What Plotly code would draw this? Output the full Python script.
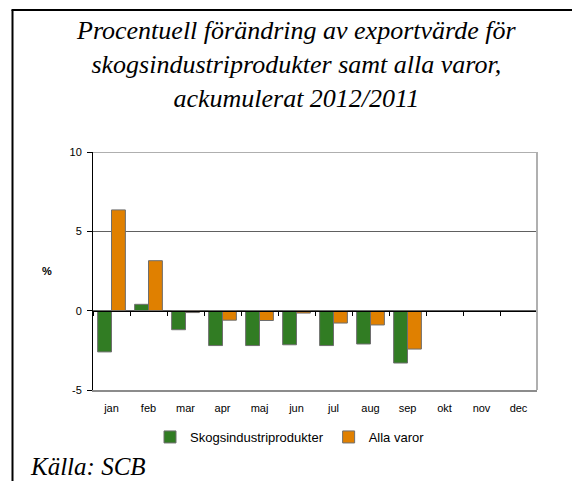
import plotly.graph_objects as go

months = ["jan", "feb", "mar", "apr", "maj", "jun", "jul", "aug", "sep", "okt", "nov", "dec"]
skog = [-2.6, 0.4, -1.2, -2.2, -2.2, -2.15, -2.2, -2.1, -3.3, None, None, None]
alla = [6.35, 3.15, -0.12, -0.6, -0.62, -0.15, -0.78, -0.9, -2.42, None, None, None]
series_names = ["Skogsindustriprodukter", "Alla varor"]
y_ticks = [-5, 0, 5, 10]

W, H = 572, 481
L, R, T, B = 93, 35, 152, 91
pw, ph = W - L - R, H - T - B

def px_x(p):
    return (p - L) / pw

def px_y(p):
    return (H - B - p) / ph

fig = go.Figure()
fig.add_trace(go.Bar(x=months, y=skog, name=series_names[0],
                     marker=dict(color="#317C23", line=dict(color="#6e6e6e", width=1))))
fig.add_trace(go.Bar(x=months, y=alla, name=series_names[1],
                     marker=dict(color="#E08000", line=dict(color="#6e6e6e", width=1))))
# invisible helper trace for the label axis
fig.add_trace(go.Scatter(x=months, y=[None] * len(months), xaxis="x2", showlegend=False,
                         hoverinfo="skip", mode="lines", line=dict(width=0)))

tick_font = dict(family="Liberation Sans, Arial", size=11, color="black")
grid_col = "#606060"
x_range = [-0.5, len(months) - 0.5]

fig.update_layout(
    width=W, height=H,
    margin=dict(l=L, r=R, t=T, b=B, pad=0),
    paper_bgcolor="white", plot_bgcolor="white",
    barmode="group", bargap=0.25, bargroupgap=0,
    showlegend=True,
    legend=dict(orientation="h", x=px_x(290), xanchor="center", y=px_y(437), yanchor="middle",
                font=dict(family="Liberation Sans, Arial", size=13, color="black"),
                itemwidth=30, tracegroupgap=0, bgcolor="rgba(0,0,0,0)"),
    xaxis=dict(type="category", categoryorder="array", categoryarray=months, range=x_range,
               anchor="free", position=1/3, showline=True, linecolor="black", linewidth=1,
               ticks="outside", tickson="boundaries", ticklen=4, tickcolor="black",
               showticklabels=False, showgrid=False, zeroline=False),
    xaxis2=dict(type="category", categoryorder="array", categoryarray=months, range=x_range,
                overlaying="x", anchor="y", side="bottom",
                showline=True, linecolor="#8c8c8c", linewidth=2,
                ticks="outside", ticklen=7, tickcolor="rgba(0,0,0,0)",
                tickfont=tick_font, showgrid=False, zeroline=False),
    yaxis=dict(range=[-5, 10], tickvals=y_ticks, ticktext=[str(v) for v in y_ticks],
               showline=True, linecolor="black", linewidth=1,
               ticks="outside", ticklen=5, tickcolor="black", ticklabelstandoff=3,
               tickfont=tick_font, showgrid=True, gridcolor=grid_col, gridwidth=1,
               zeroline=False),
    font=dict(family="Liberation Sans, Arial"),
)

# top gridline at the upper limit of the axis
fig.add_shape(type="line", xref="paper", yref="y", x0=0, x1=1, y0=y_ticks[-1], y1=y_ticks[-1],
              line=dict(color=grid_col, width=1))
# right plot border (gray)
fig.add_shape(type="line", xref="paper", yref="paper", x0=1, x1=1, y0=0, y1=1,
              line=dict(color="#b0b0b0", width=2))
# outer frame: left and top
fig.add_shape(type="line", xref="paper", yref="paper", x0=px_x(12.5), x1=px_x(12.5),
              y0=px_y(10), y1=px_y(495), line=dict(color="black", width=2))
fig.add_shape(type="line", xref="paper", yref="paper", x0=px_x(11.5), x1=px_x(590),
              y0=px_y(10), y1=px_y(10), line=dict(color="black", width=2))

# title
fig.add_annotation(xref="paper", yref="paper", x=px_x(296), y=px_y(64), xanchor="center",
                   yanchor="middle", showarrow=False, align="center",
                   text="Procentuell förändring av exportvärde för<br>skogsindustriprodukter samt alla varor,<br>ackumulerat 2012/2011",
                   font=dict(family="Liberation Serif, Times New Roman", size=26, color="black", style="italic"))
# y-axis unit
fig.add_annotation(xref="paper", yref="paper", x=px_x(47), y=px_y(271), xanchor="center",
                   yanchor="middle", showarrow=False, text="<b>%</b>",
                   font=dict(family="Liberation Sans, Arial", size=11, color="black"))
# source
fig.add_annotation(xref="paper", yref="paper", x=px_x(28), y=px_y(466), xanchor="left",
                   yanchor="middle", showarrow=False, text="Källa: SCB",
                   font=dict(family="Liberation Serif, Times New Roman", size=25, color="black", style="italic"))

fig.write_html("out.html", config={"displayModeBar": False},
               post_script="document.body.style.margin='0';")
